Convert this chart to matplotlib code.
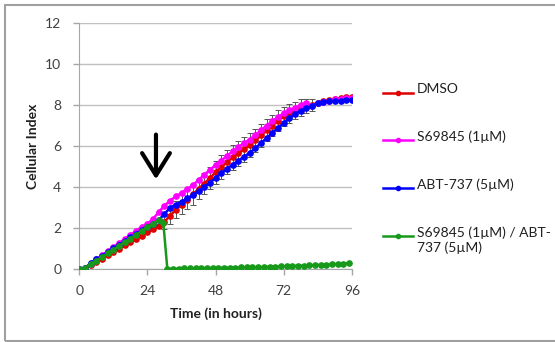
import numpy as np
import matplotlib
matplotlib.use('Agg')
from matplotlib import pyplot as plt
from matplotlib.lines import Line2D
from matplotlib.patches import Rectangle

# time axis (hours), one reading every 2 h
hours = list(range(0, 97, 2))

dmso = [0.00, 0.03, 0.20, 0.36, 0.52, 0.68, 0.84, 1.00, 1.16, 1.32,
        1.48, 1.64, 1.80, 1.96, 2.10, 2.32, 2.62, 2.90, 3.15, 3.40,
        3.65, 3.92, 4.18, 4.45, 4.72, 4.98, 5.22, 5.45, 5.65, 5.85,
        6.05, 6.28, 6.52, 6.78, 7.00, 7.25, 7.45, 7.60, 7.75, 7.88,
        7.95, 8.02, 8.10, 8.18, 8.24, 8.30, 8.34, 8.38, 8.40]
s69845 = [0.00, 0.05, 0.28, 0.48, 0.68, 0.88, 1.08, 1.28, 1.48, 1.68,
          1.88, 2.06, 2.22, 2.45, 2.80, 3.10, 3.35, 3.55, 3.72, 3.90,
          4.10, 4.35, 4.60, 4.85, 5.08, 5.30, 5.52, 5.75, 5.95, 6.15,
          6.32, 6.55, 6.78, 7.00, 7.22, 7.42, 7.60, 7.75, 7.88, 8.02,
          8.12, 7.98, 8.08, 8.15, 8.22, 8.28, 8.32, 8.35, 8.35]
abt737 = [0.00, 0.05, 0.30, 0.48, 0.66, 0.84, 1.02, 1.20, 1.38, 1.55,
          1.72, 1.90, 2.06, 2.22, 2.40, 2.70, 3.00, 3.15, 3.30, 3.45,
          3.62, 3.82, 4.02, 4.22, 4.45, 4.68, 4.90, 5.10, 5.30, 5.48,
          5.68, 5.90, 6.15, 6.40, 6.65, 6.90, 7.12, 7.35, 7.55, 7.72,
          7.85, 7.98, 8.08, 8.15, 8.18, 8.20, 8.22, 8.24, 8.25]

# combination: readings shifted around the drug addition
combo_hours = list(range(0, 30, 2)) + [29.6] + list(range(31, 97, 2))
combo = [0.00, 0.05, 0.25, 0.42, 0.60, 0.78, 0.96, 1.14, 1.32, 1.50,
         1.68, 1.86, 2.04, 2.22, 2.42, 2.25,
         0.02, 0.03, 0.03, 0.04, 0.04, 0.05, 0.05, 0.06, 0.06, 0.07,
         0.07, 0.08, 0.08, 0.09, 0.09, 0.10, 0.10, 0.11, 0.12, 0.13,
         0.14, 0.15, 0.16, 0.17, 0.18, 0.19, 0.20, 0.21, 0.22, 0.24,
         0.26, 0.28, 0.30]

# DMSO error bars (30 h .. 82 h)
err_hours = list(range(30, 83, 2))
dmso_err = [0.35, 0.40, 0.42, 0.45, 0.48, 0.50, 0.50, 0.52, 0.55, 0.55,
            0.58, 0.58, 0.60, 0.60, 0.60, 0.60, 0.58, 0.56, 0.55, 0.52,
            0.50, 0.48, 0.45, 0.42, 0.40, 0.35, 0.30]

labels = ['DMSO', 'S69845 (1µM)', 'ABT-737 (5µM)', 'S69845 (1µM) / ABT-\n737 (5µM)']
colors = ['#e00000', '#ff00ff', '#0000ff', '#179a1a']
xticks = [0, 24, 48, 72, 96]
yticks = [0, 2, 4, 6, 8, 10, 12]

plt.rcParams['font.family'] = ['Lato', 'DejaVu Sans']

fig = plt.figure(figsize=(5.55, 3.42), dpi=100)
ax = fig.add_axes([0.1429, 0.2126, 0.634 - 0.1429, 0.9327 - 0.2126])

series = [(hours, dmso), (hours, s69845), (hours, abt737), (combo_hours, combo)]
for i, ((t, y), c) in enumerate(zip(series, colors)):
    ax.plot(t, y, color=c, lw=1.8, marker='o', ms=3.8, mec=c, zorder=3 + i)

dmso_at = dict(zip(hours, dmso))
ax.errorbar(err_hours, [dmso_at[h] for h in err_hours], yerr=dmso_err,
            fmt='none', ecolor='#555555', elinewidth=0.7, capsize=2.0,
            capthick=0.7, zorder=2.5)

ax.set_xlim(0, 96)
ax.set_ylim(0, 12)
ax.set_xticks(xticks)
ax.set_yticks(yticks)
ax.yaxis.grid(True, color='#c0c0c0', lw=1)
ax.set_axisbelow(True)
for s in ['top', 'right']:
    ax.spines[s].set_visible(False)
for s in ['left', 'bottom']:
    ax.spines[s].set_color('#a6a6a6')
ax.tick_params(axis='both', colors='#a6a6a6', labelcolor='#404040',
               labelsize=10, length=4, width=1)
ax.tick_params(axis='x', pad=7)
ax.tick_params(axis='y', pad=9)
ax.set_xlabel('Time (in hours)', fontsize=10, fontweight='bold', color='#202020', labelpad=8)
ax.set_ylabel('Cellular Index', fontsize=10, fontweight='bold', color='#202020', labelpad=4)

# arrow marking drug addition
ax.annotate('', xy=(27, 4.25), xytext=(27, 6.7),
            arrowprops=dict(arrowstyle='->, head_length=0.8, head_width=0.5',
                            lw=3, color='black', mutation_scale=20))

# legend on the right
leg_y = [93, 140, 188, 236]
for lab, c, yp in zip(labels, colors, leg_y):
    yf = 1 - yp / 342
    fig.add_artist(Line2D([383 / 555, 413 / 555], [yf, yf], color=c, lw=1.8))
    fig.add_artist(Line2D([398 / 555], [yf], color=c, marker='o', ms=3))
    fig.text(417 / 555, yf + 0.028, lab, fontsize=10, color='#202020',
             va='top', ha='left', linespacing=1.2)

# outer frame
fig.add_artist(Rectangle((5 / 555, 1 - 341 / 342), 560 / 555, 336 / 342,
                         transform=fig.transFigure, fill=False,
                         ec='#a0a0a0', lw=1.5))

fig.savefig('out.png', dpi=100)
